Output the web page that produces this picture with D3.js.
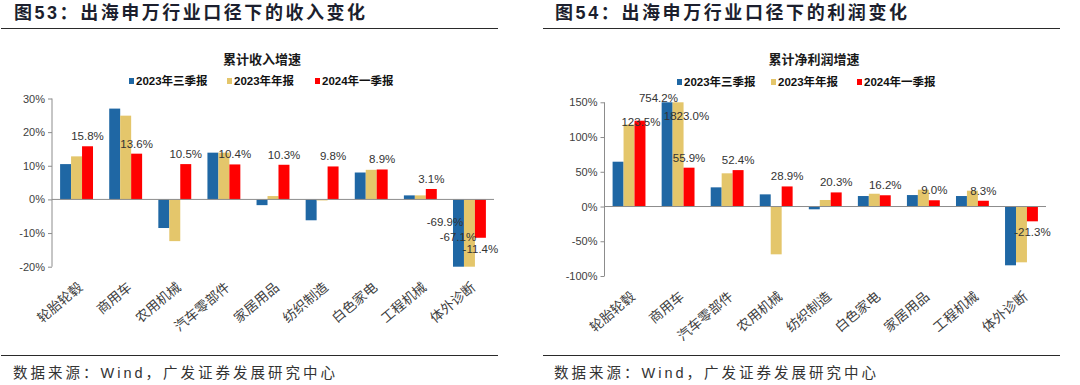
<!DOCTYPE html>
<html>
<head>
<meta charset="utf-8">
<script src="https://cdn.jsdelivr.net/npm/d3@7"></script>
<style>
  html, body { margin: 0; padding: 0; background: #ffffff; }
  svg { display: block; }
</style>
</head>
<body>
<div id="canvas"></div>
<script>
"use strict"

/* data (percent) */
let seriesNames = ["2023年三季报", "2023年年报", "2024年一季报"];

let revCategories = ["轮胎轮毂", "商用车", "农用机械", "汽车零部件", "家居用品", "纺织制造", "白色家电", "工程机械", "体外诊断"];
let revQ3_2023 = [10.5, 27.0, -8.5, 13.9, -1.7, -6.2, 8.0, 1.2, -69.9];
let revFY2023 = [12.8, 24.9, -12.4, 13.9, 1.0, -0.3, 8.8, 1.2, -67.1];
let revQ1_2024 = [15.8, 13.6, 10.5, 10.4, 10.3, 9.8, 8.9, 3.1, -11.4];
let revTicks = [-20, -10, 0, 10, 20, 30];

let profCategories = ["轮胎轮毂", "商用车", "汽车零部件", "农用机械", "纺织制造", "白色家电", "家居用品", "工程机械", "体外诊断"];
let profQ3_2023 = [64.5, 754.2, 27.6, 17.5, -4.0, 15.1, 16.5, 15.1, -84.6];
let profFY2023 = [118.0, 1823.0, 47.8, -68.8, 9.4, 18.4, 24.2, 22.8, -80.3];
let profQ1_2024 = [123.5, 55.9, 52.4, 28.9, 20.3, 16.2, 9.0, 8.3, -21.3];
let profTicks = [-100, -50, 0, 50, 100, 150];

/* styling */
let colors = ["#1F67A4", "#E4C66B", "#FF0000"];
let axisColor = "#8c8c8c";
let textColor = "#404040";
let latin = "'Liberation Sans', Arial, 'Noto Sans CJK SC', sans-serif";
let cjk = "'Noto Sans CJK SC', 'Liberation Sans', sans-serif";

let svg = d3.select("#canvas").append("svg")
    .attr("width", 1080)
    .attr("height", 385);

// plain hyphen for negatives, like the source
let fmt = function(v) { return v.toFixed(1) + "%"; };

/*
    Draws one panel: heading, chart title, legend, axis, bars, labels, footer.
*/
function drawPanel(p) {
    let g = svg.append("g");

    // heading
    g.append("text")
        .attr("x", p.headX)
        .attr("y", 19)
        .attr("textLength", p.headLen)
        .attr("lengthAdjust", "spacing")
        .style("font-family", latin)
        .style("font-weight", "bold")
        .style("font-size", "18px")
        .attr("fill", "#1c1f2e")
        .text(p.heading);

    g.append("line")
        .attr("x1", p.lineX1).attr("x2", p.lineX2)
        .attr("y1", 28.5).attr("y2", 28.5)
        .attr("stroke", "#2a2a2a").attr("stroke-width", 1);

    // footer
    g.append("line")
        .attr("x1", p.lineX1).attr("x2", p.lineX2)
        .attr("y1", 355.5).attr("y2", 355.5)
        .attr("stroke", "#2a2a2a").attr("stroke-width", 1);

    g.append("text")
        .attr("x", p.headX - 1)
        .attr("y", 378)
        .attr("textLength", 322)
        .attr("lengthAdjust", "spacing")
        .style("font-family", latin)
        .style("font-size", "14.5px")
        .attr("fill", "#333333")
        .text("数据来源：Wind，广发证券发展研究中心");

    // chart title
    g.append("text")
        .attr("x", p.titleX)
        .attr("y", 64)
        .attr("text-anchor", "middle")
        .style("font-family", cjk)
        .style("font-weight", "bold")
        .style("font-size", "13px")
        .attr("fill", "#1a1a1a")
        .text(p.title);

    // legend
    for (let i = 0; i < seriesNames.length; i++) {
        g.append("rect")
            .attr("x", p.legendX[i])
            .attr("y", p.legendY - 3)
            .attr("width", 5)
            .attr("height", 6)
            .attr("fill", colors[i]);
        g.append("text")
            .attr("x", p.legendX[i] + 7)
            .attr("y", p.legendY + 4)
            .style("font-family", latin)
            .style("font-weight", "bold")
            .style("font-size", "11.5px")
            .attr("fill", "#111111")
            .text(seriesNames[i]);
    }

    // scales
    let yScale = d3.scaleLinear()
        .domain(p.domain)
        .range([p.bottom, p.top]);

    let x0 = d3.scaleBand()
        .domain(p.categories)
        .range([p.axisX, p.plotRight])
        .padding(0);

    let step = x0.bandwidth();
    let x1 = d3.scaleBand()
        .domain([0, 1, 2])
        .range([step * 0.165, step * 0.835])
        .padding(0);

    // y axis
    let yAxis = d3.axisLeft(yScale)
        .tickValues(p.ticks)
        .tickSize(4)
        .tickFormat(function(d) { return d + "%"; });

    let ax = g.append("g")
        .attr("transform", "translate(" + p.axisX + ",0)")
        .call(yAxis);
    ax.select(".domain").attr("stroke", axisColor).attr("d", "M0," + p.bottom + "V" + p.top);
    ax.selectAll(".tick line").attr("stroke", axisColor);
    ax.selectAll(".tick text")
        .attr("x", -7)
        .style("font-family", latin)
        .style("font-size", "11px")
        .attr("fill", textColor);

    // bars
    let rows = [];
    for (let s = 0; s < p.series.length; s++) {
        for (let c = 0; c < p.categories.length; c++) {
            rows.push({ s: s, c: p.categories[c], ci: c, v: p.series[s][c] });
        }
    }
    let clip = function(v) { return Math.max(p.domain[0], Math.min(p.domain[1], v)); };

    g.selectAll("rect.bar")
        .data(rows)
        .join("rect")
        .classed("bar", true)
        .attr("x", function(d) { return x0(d.c) + x1(d.s); })
        .attr("width", x1.bandwidth())
        .attr("y", function(d) { return yScale(Math.max(0, clip(d.v))); })
        .attr("height", function(d) { return Math.abs(yScale(clip(d.v)) - yScale(0)); })
        .attr("fill", function(d) { return colors[d.s]; });

    // zero line
    g.append("line")
        .attr("x1", p.axisX).attr("x2", p.plotRight)
        .attr("y1", yScale(0)).attr("y2", yScale(0))
        .attr("stroke", axisColor).attr("stroke-width", 1);

    // data labels: every 2024Q1 value plus bars cut by the axis range
    let labelRows = rows.filter(function(d) {
        return d.s === 2 || d.v !== clip(d.v);
    });
    g.selectAll("text.dlabel")
        .data(labelRows)
        .join("text")
        .classed("dlabel", true)
        .attr("text-anchor", "middle")
        .attr("x", function(d) {
            let n = p.nudge[d.s + "-" + d.ci] || [0, 0];
            return x0(d.c) + x1(d.s) + x1.bandwidth() / 2 + n[0];
        })
        .attr("y", function(d) {
            let n = p.nudge[d.s + "-" + d.ci];
            let end = yScale(clip(d.v));
            if (n) return end + n[1];
            return d.v >= 0 ? end - 6 : end + 15;
        })
        .style("font-family", latin)
        .style("font-size", "11.5px")
        .attr("fill", "#333333")
        .text(function(d) { return fmt(d.v); });

    // category labels
    g.selectAll("text.cat")
        .data(p.categories)
        .join("text")
        .classed("cat", true)
        .attr("text-anchor", "end")
        .attr("transform", function(d) {
            let cx = x0(d) + step / 2 + 7;
            let cy = p.bottom + 22;
            return "translate(" + cx + "," + cy + ") rotate(-40)";
        })
        .style("font-family", cjk)
        .style("font-size", "13.5px")
        .attr("fill", textColor)
        .text(function(d) { return d; });
}

drawPanel({
    heading: "图53：出海申万行业口径下的收入变化",
    headX: 14, headLen: 351,
    lineX1: 1, lineX2: 498,
    title: "累计收入增速", titleX: 262,
    legendX: [129, 227, 315], legendY: 81,
    categories: revCategories,
    series: [revQ3_2023, revFY2023, revQ1_2024],
    domain: [-20, 30], ticks: revTicks,
    axisX: 52, plotRight: 494, top: 98.5, bottom: 266.7,
    nudge: { "0-8": [-13.5, -40.5], "1-8": [-11.5, -25.5] }
});

drawPanel({
    heading: "图54：出海申万行业口径下的利润变化",
    headX: 555, headLen: 352,
    lineX1: 543, lineX2: 1060,
    title: "累计净利润增速", titleX: 814,
    legendX: [677, 771, 857], legendY: 82,
    categories: profCategories,
    series: [profQ3_2023, profFY2023, profQ1_2024],
    domain: [-100, 150], ticks: profTicks,
    axisX: 604.5, plotRight: 1046, top: 102.3, bottom: 276,
    nudge: { "0-1": [-8.7, 0], "1-1": [8.4, 17.7], "2-0": [1, 5] }
});
</script>
</body>
</html>
